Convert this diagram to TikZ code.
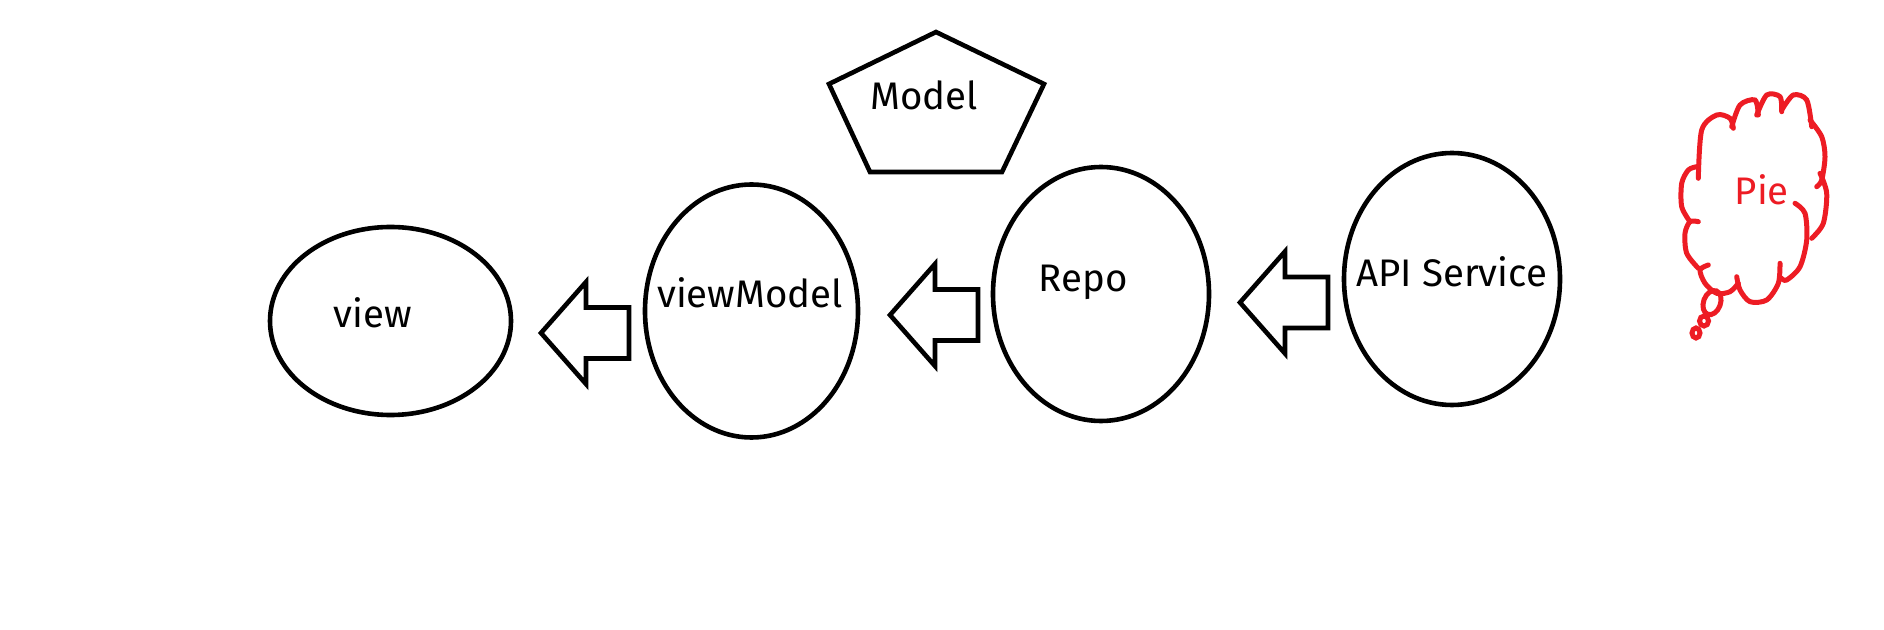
\documentclass[tikz,border=0pt]{standalone}
\usepackage{fontspec}
\setmainfont{Fira Sans}
\usetikzlibrary{shapes.geometric}
\definecolor{paintred}{RGB}{237,28,36}
\begin{document}
\begin{tikzpicture}[x=0.5pt,y=-0.5pt,
  ell/.style={draw, ellipse, line width=2.3pt, inner sep=0pt},
  lbl/.style={anchor=base, inner sep=0pt, font=\fontsize{19.2}{23}\selectfont},
  shp/.style={draw, line width=2.3pt, line join=miter},
  cloudline/.style={draw=paintred, line width=2.5pt, line cap=round},
  larrow/.pic={\draw[shp] (0,0) -- (45,-51) -- (45,-25.5) -- (88,-25.5) -- (88,25.5) -- (45,25.5) -- (45,51) -- cycle;}]
\useasboundingbox (0,0) rectangle (1884,630);
% ellipses
\node[ell, minimum width=120.5pt, minimum height=94pt] (view) at (390.5,321) {};
\node[ell, minimum width=106.5pt, minimum height=126.5pt] (viewmodel) at (751.5,311) {};
\node[ell, minimum width=108pt, minimum height=127pt] (repo) at (1101,294) {};
\node[ell, minimum width=108pt, minimum height=126pt] (api) at (1452,279) {};
% labels
\node[lbl] (viewlbl) at (372.5,328) {view};
\node[lbl] (vmlbl) at (750,307.7) {viewModel};
\node[lbl] (repolbl) at (1083,291.7) {Repo};
\node[lbl] (apilbl) at (1451.7,286.7) {API Service};
% pentagon
\draw[shp] (936,32) -- (1044,84) -- (1002,172) -- (870,172) -- (829,84) -- cycle;
\node[lbl] (modellbl) at (924,110) {Model};
% block arrows
\pic at (541,333) {larrow};
\pic at (890,315) {larrow};
\pic at (1240,302.5) {larrow};
% cloud
\draw[cloudline] plot[smooth] coordinates {(1698.3,178.3) (1701.7,130) (1716.7,115) (1730,118.3) (1733.3,128.3)};
\draw[cloudline] plot[smooth] coordinates {(1731.7,126.7) (1740,105) (1755,100) (1758.3,115)};
\draw[cloudline] plot[smooth] coordinates {(1756.7,115) (1766.7,95) (1780,96.7) (1781.7,111.7)};
\draw[cloudline] plot[smooth] coordinates {(1781.7,110) (1793.3,95) (1806.7,100) (1811.7,126.7)};
\draw[cloudline] plot[smooth] coordinates {(1810,120) (1821.7,136.7) (1825,156.7) (1821.7,180) (1816.7,186.7)};
\draw[cloudline] plot[smooth] coordinates {(1820,173.3) (1826.7,193.3) (1823.3,223.3) (1811.7,238.3)};
\draw[cloudline] plot[smooth] coordinates {(1795,203.3) (1805,213.3) (1806.7,240) (1800,266.7) (1786.7,280) (1781,278)};
\draw[cloudline] plot[smooth] coordinates {(1780,263.3) (1778.3,283.3) (1766.7,300) (1750,301.7) (1740,290) (1736.7,276.7)};
\draw[cloudline] plot[smooth] coordinates {(1738.3,283.3) (1730,291.7) (1716.7,293.3) (1705,283.3) (1700,270) (1708.3,265)};
\draw[cloudline] plot[smooth] coordinates {(1698.3,268.3) (1686.7,253.3) (1685,233.3) (1690,221.7) (1698.3,221.7)};
\draw[cloudline] plot[smooth] coordinates {(1690,221.7) (1681.7,206.7) (1681.7,183.3) (1688.3,170) (1696.7,166.7)};
\draw[cloudline] (1712,302.6) ellipse [x radius=8.5, y radius=12.5, rotate=-20];
\draw[cloudline] (1704,321) ellipse [x radius=4.5, y radius=5];
\draw[cloudline] (1696,333) ellipse [x radius=4, y radius=5];
\node[lbl, text=paintred] (pielbl) at (1761.7,205) {Pie};
\end{tikzpicture}
\end{document}
